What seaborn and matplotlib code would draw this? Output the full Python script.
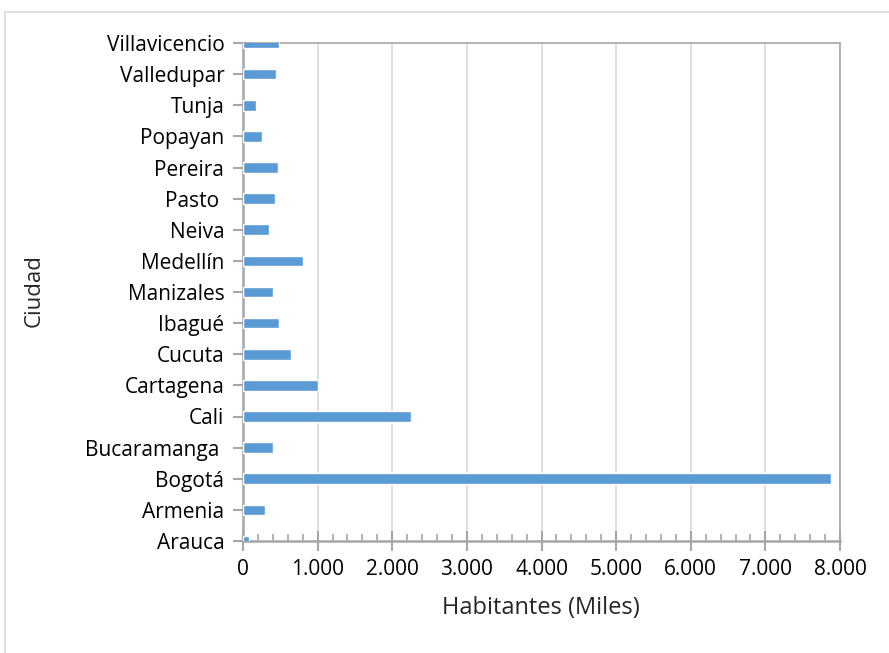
import matplotlib
matplotlib.use("Agg")
import matplotlib.pyplot as plt
import matplotlib.ticker as mticker
from matplotlib.patches import Rectangle
import seaborn as sns
import pandas as pd

# Population by city (thousands of inhabitants), listed from bottom to top
ciudades = ["Arauca", "Armenia", "Bogotá", "Bucaramanga ", "Cali", "Cartagena",
            "Cucuta", "Ibagué", "Manizales", "Medellín", "Neiva", "Pasto ",
            "Pereira", "Popayan", "Tunja", "Valledupar", "Villavicencio"]
habitantes = [85, 300, 7880, 407, 2252, 1000, 648, 483, 398, 808, 344, 425,
              473, 250, 180, 443, 484]
x_ticks = [0, 1000, 2000, 3000, 4000, 5000, 6000, 7000, 8000]

df = pd.DataFrame({"Ciudad": ciudades, "Habitantes": habitantes})

sns.set_style("white")
plt.rcParams["font.family"] = ["Open Sans", "DejaVu Sans"]

fig = plt.figure(figsize=(8.89, 6.53), dpi=100)
ax = fig.add_axes([243 / 889, 1 - 541 / 653, 597 / 889, 498 / 653])

# Chart-area border
fig.patches.append(Rectangle((5 / 889, -0.01), 1.0, 1 - 12 / 653 + 0.01,
                             transform=fig.transFigure, fill=False,
                             edgecolor="#d9d9d9", linewidth=1.2, zorder=0))

sns.barplot(data=df, x="Habitantes", y="Ciudad", order=ciudades[::-1],
            color="#5B9BD5", saturation=1, width=0.345, ax=ax, zorder=3)

# Category centres sit exactly on the top and bottom edges of the plot
ax.set_xlim(0, 8000)
ax.set_ylim(len(ciudades) - 1, 0)
ax.set_xticks(x_ticks)
ax.xaxis.set_minor_locator(mticker.MultipleLocator(200))
ax.xaxis.set_major_formatter(mticker.FuncFormatter(
    lambda v, p: f"{int(v):,}".replace(",", ".")))

ax.grid(axis="x", which="major", color="#d9d9d9", linewidth=1.2, zorder=0)
ax.set_axisbelow(True)

for side in ["top", "right"]:
    ax.spines[side].set_color("#a6a6a6")
    ax.spines[side].set_linewidth(1.2)
for side in ["left", "bottom"]:
    ax.spines[side].set_color("#a6a6a6")
    ax.spines[side].set_linewidth(1.8)

ax.tick_params(axis="y", which="major", direction="inout", length=15,
               width=1.5, color="#a6a6a6", labelsize=15, pad=6,
               labelcolor="black", left=True)
ax.tick_params(axis="x", which="major", direction="inout", length=14,
               width=1.5, color="#a6a6a6", labelsize=15, pad=6,
               labelcolor="black", bottom=True)
ax.tick_params(axis="x", which="minor", direction="in", length=5,
               width=1.2, color="#a6a6a6", bottom=True)

ax.set_xlabel("Habitantes (Miles)", fontsize=17, labelpad=10)
ax.set_ylabel("Ciudad", fontsize=16)
ax.xaxis.set_label_coords((541 - 243) / 597, -(608 - 541) / 498)
ax.xaxis.label.set_va("center")
ax.yaxis.set_label_coords(-(243 - 34) / 597, 1 - (291 - 43) / 498)
ax.yaxis.label.set_va("center")

fig.savefig("out.png", dpi=100, facecolor="white")
